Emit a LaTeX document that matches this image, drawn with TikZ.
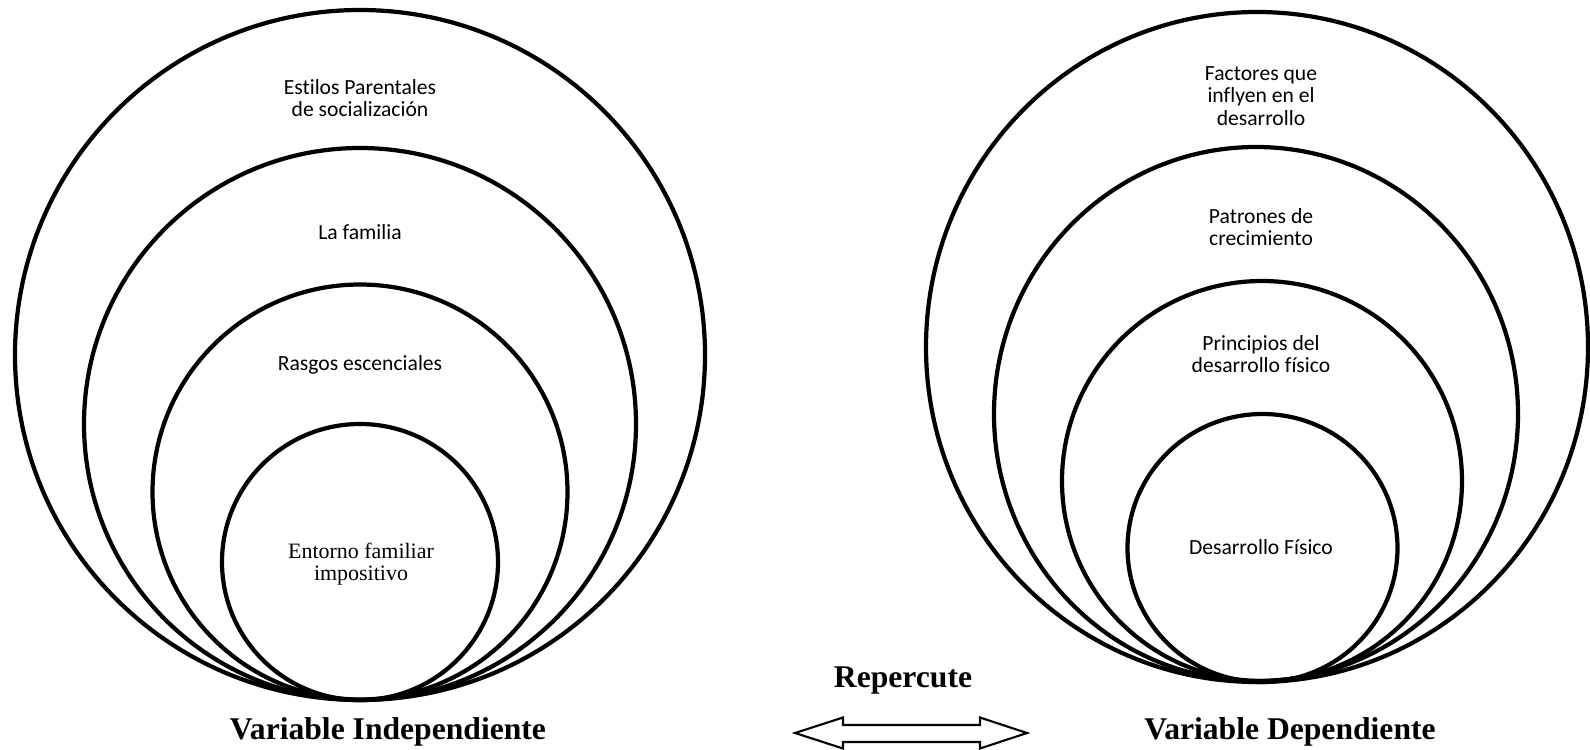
\documentclass[tikz,border=0pt]{standalone}
\usepackage{fontspec}
\newfontfamily\calibrifont[Ligatures=NoCommon]{Carlito}
\newfontfamily\timesfont{Liberation Serif}

\begin{document}
\begin{tikzpicture}[x=0.02cm, y=-0.02cm,
    ring/.style={line width=2.4pt},
    circtext/.style={align=center, font=\calibrifont\fontsize{12.3}{13}\selectfont},
    seriftext/.style={align=center, font=\timesfont\fontsize{12.5}{12.6}\selectfont},
    vartitle/.style={anchor=base, font=\timesfont\bfseries\fontsize{18}{20}\selectfont}]

    % Marco de la imagen
    \useasboundingbox (0,0) rectangle (1590,750);

    % 1. Círculos de la variable independiente (izquierda)
    \draw[ring] (360,355) circle [radius=345];
    \draw[ring] (360,424) circle [radius=276];
    \draw[ring] (360,492) circle [radius=207.5];
    \draw[ring] (360,562) circle [radius=138];

    % 2. Círculos de la variable dependiente (derecha)
    \draw[ring] (1257,347) ellipse [x radius=331, y radius=335];
    \draw[ring] (1256,414) ellipse [x radius=262, y radius=267];
    \draw[ring] (1262,481) circle [radius=200];
    \draw[ring] (1262.5,548) ellipse [x radius=135, y radius=134];

    % 3. Textos de los círculos izquierdos
    \node[circtext] (estilos) at (360,98) {Estilos Parentales\\de socialización};
    \node[circtext] (familia) at (360,232) {La familia};
    \node[circtext] (rasgos) at (360,365) {Rasgos escenciales};
    \node[seriftext] (entorno) at (361,564) {Entorno familiar\\impositivo};

    % 4. Textos de los círculos derechos
    \node[circtext] (factores) at (1261,96) {Factores que\\inflyen en el\\desarrollo};
    \node[circtext] (patrones) at (1261,227) {Patrones de\\crecimiento};
    \node[circtext] (principios) at (1261,354) {Principios del\\desarrollo físico};
    \node[circtext] (fisico) at (1261,547) {Desarrollo Físico};

    % 5. Flecha doble y etiquetas
    \draw[line width=1.2pt, line join=miter] (795,733) -- (843,717.5) -- (843,725)
        -- (980,725) -- (980,717.5) -- (1027,733) -- (980,748.5) -- (980,742)
        -- (843,742) -- (843,748.5) -- cycle;
    \node[vartitle] (repercute) at (903,687) {Repercute};
    \node[vartitle] (independiente) at (388,739) {Variable Independiente};
    \node[vartitle] (dependiente) at (1290,739) {Variable Dependiente};

\end{tikzpicture}
\end{document}
